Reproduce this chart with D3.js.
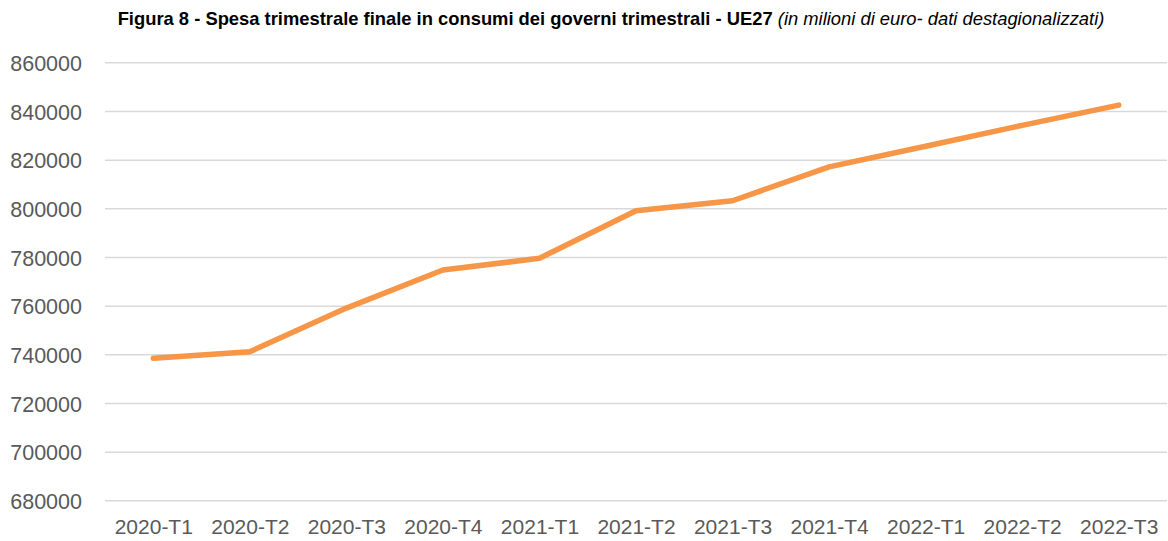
<!DOCTYPE html>
<html><head><meta charset="utf-8">
<script src="https://cdn.jsdelivr.net/npm/d3@7"></script>
<style>html,body{margin:0;padding:0;background:#fff;}svg{display:block;}</style>
</head><body>
<svg id="chart" width="1168" height="541"></svg>
<script>
const categories = ["2020-T1","2020-T2","2020-T3","2020-T4","2021-T1","2021-T2","2021-T3","2021-T4","2022-T1","2022-T2","2022-T3"];
const values = [738350, 741050, 759000, 774650, 779450, 799000, 803100, 817000, 825500, 834100, 842400];
const yTicks = [680000,700000,720000,740000,760000,780000,800000,820000,840000,860000];
const titleBold = "Figura 8 - Spesa trimestrale finale in consumi dei governi trimestrali - UE27";
const titleItalic = " (in milioni di euro- dati destagionalizzati)";

const svg = d3.select("#chart");
const plotLeft = 105, plotRight = 1167, plotTop = 62.3, plotBottom = 500.3;
const font = "'Liberation Sans', Arial, sans-serif";

const x = d3.scalePoint().domain(categories).range([plotLeft, plotRight]).padding(0.5);
const y = d3.scaleLinear().domain([680000, 860000]).range([plotBottom, plotTop]);

// title
const title = svg.append("text").attr("x", 611).attr("y", 25)
  .attr("text-anchor", "middle").style("font-family", font).style("font-size", "15px").attr("fill", "#000");
title.append("tspan").attr("font-weight", "bold").text(titleBold);
title.append("tspan").attr("font-style", "italic").text(titleItalic);
const w = title.node().getComputedTextLength();
const fs = 15 * 987 / w;
title.style("font-size", fs + "px");

// gridlines + y axis
const yAxis = d3.axisLeft(y).tickValues(yTicks).tickSize(-(plotRight - plotLeft)).tickFormat(d3.format("d")).tickPadding(23);
const gy = svg.append("g").attr("transform", `translate(${plotLeft},0)`).call(yAxis);
gy.select(".domain").remove();
gy.selectAll(".tick line").attr("stroke", "#d9d9d9").attr("stroke-width", 1.5);
gy.selectAll(".tick text").attr("fill", "#595959").style("font-family", font).style("font-size", "21.5px").attr("dy", "0.38em");

// x axis
const xAxis = d3.axisBottom(x).tickSize(0).tickPadding(19);
const gx = svg.append("g").attr("transform", `translate(0,${plotBottom})`).call(xAxis);
gx.select(".domain").remove();
gx.selectAll(".tick text").attr("fill", "#595959").style("font-family", font).style("font-size", "21px");

// line
const line = d3.line().x((d, i) => x(categories[i])).y(d => y(d));
svg.append("path").datum(values).attr("d", line)
  .attr("fill", "none").attr("stroke", "#F79646").attr("stroke-width", 5.5)
  .attr("stroke-linecap", "round").attr("stroke-linejoin", "round");
</script>
</body></html>
